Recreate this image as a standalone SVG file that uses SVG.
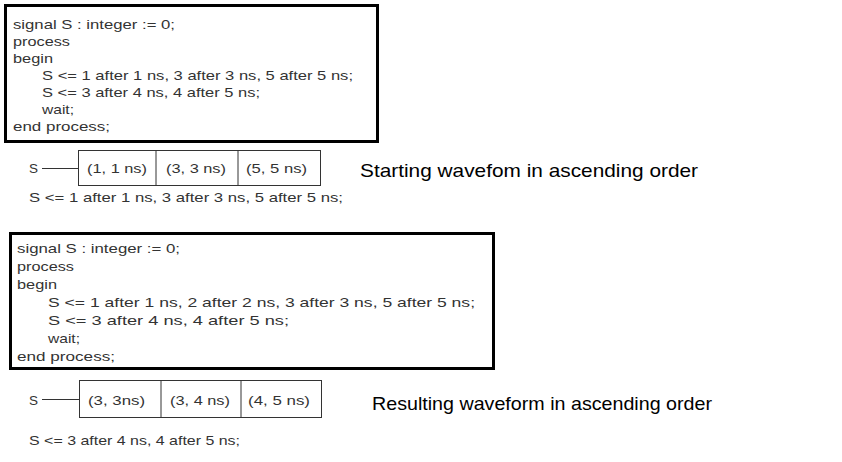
<svg xmlns="http://www.w3.org/2000/svg" width="842" height="462" viewBox="0 0 842 462">
<style>
  .code { font-family: "Liberation Sans", Arial, sans-serif; font-size: 13.5px; fill: #333333; }
  .label { font-family: "Liberation Sans", Arial, sans-serif; font-size: 19px; fill: #000000; }
  .frame { fill: #ffffff; stroke: #000000; stroke-width: 3; }
  .wave { fill: #ffffff; stroke: #333333; stroke-width: 1; }
  .div { stroke: #333333; stroke-width: 1; }
  .wire { stroke: #333333; stroke-width: 1; fill: none; }
</style>
<rect width="842" height="462" fill="#ffffff"/>

<g id="code1">
  <rect class="frame" x="5.5" y="5.5" width="372" height="136"/>
  <text class="code" x="13" y="29" textLength="162" lengthAdjust="spacingAndGlyphs">signal S : integer := 0;</text>
  <text class="code" x="13" y="46" textLength="57" lengthAdjust="spacingAndGlyphs">process</text>
  <text class="code" x="13" y="63" textLength="40" lengthAdjust="spacingAndGlyphs">begin</text>
  <text class="code" x="42" y="80" textLength="311" lengthAdjust="spacingAndGlyphs">S &lt;= 1 after 1 ns, 3 after 3 ns, 5 after 5 ns;</text>
  <text class="code" x="42" y="97" textLength="218" lengthAdjust="spacingAndGlyphs">S &lt;= 3 after 4 ns, 4 after 5 ns;</text>
  <text class="code" x="42" y="114" textLength="32" lengthAdjust="spacingAndGlyphs">wait;</text>
  <text class="code" x="13" y="131" textLength="97" lengthAdjust="spacingAndGlyphs">end process;</text>
</g>

<g id="wave1">
  <text class="code" x="29" y="173">S</text>
  <rect class="wave" x="78.5" y="150.5" width="242" height="35"/>
  <line class="div" x1="156" y1="150.5" x2="156" y2="185.5"/>
  <line class="div" x1="238" y1="150.5" x2="238" y2="185.5" stroke="#888888"/>
  <text class="code" x="87" y="173" textLength="60" lengthAdjust="spacingAndGlyphs">(1, 1 ns)</text>
  <text class="code" x="166" y="173" textLength="60" lengthAdjust="spacingAndGlyphs">(3, 3 ns)</text>
  <text class="code" x="246" y="173" textLength="61" lengthAdjust="spacingAndGlyphs">(5, 5 ns)</text>
  <text class="code" x="29" y="202" textLength="314" lengthAdjust="spacingAndGlyphs">S &lt;= 1 after 1 ns, 3 after 3 ns, 5 after 5 ns;</text>
</g>

<g id="label1">
  <text class="label" x="360" y="177" textLength="338" lengthAdjust="spacingAndGlyphs">Starting wavefom in ascending order</text>
</g>

<g id="code2">
  <rect class="frame" x="10.5" y="233.5" width="483" height="135"/>
  <text class="code" x="17" y="253" textLength="163" lengthAdjust="spacingAndGlyphs">signal S : integer := 0;</text>
  <text class="code" x="17" y="271" textLength="57" lengthAdjust="spacingAndGlyphs">process</text>
  <text class="code" x="17" y="289" textLength="40" lengthAdjust="spacingAndGlyphs">begin</text>
  <text class="code" x="48" y="307" textLength="427" lengthAdjust="spacingAndGlyphs">S &lt;= 1 after 1 ns, 2 after 2 ns, 3 after 3 ns, 5 after 5 ns;</text>
  <text class="code" x="48" y="325" textLength="241" lengthAdjust="spacingAndGlyphs">S &lt;= 3 after 4 ns, 4 after 5 ns;</text>
  <text class="code" x="48" y="343" textLength="32" lengthAdjust="spacingAndGlyphs">wait;</text>
  <text class="code" x="17" y="361" textLength="98" lengthAdjust="spacingAndGlyphs">end process;</text>
</g>

<g id="wave2">
  <text class="code" x="29" y="405">S</text>
  <rect class="wave" x="79.5" y="380.5" width="242" height="37"/>
  <line class="div" x1="161" y1="380.5" x2="161" y2="417.5" stroke-width="2"/>
  <line class="div" x1="241" y1="380.5" x2="241" y2="417.5"/>
  <text class="code" x="88" y="405" textLength="57" lengthAdjust="spacingAndGlyphs">(3, 3ns)</text>
  <text class="code" x="170" y="405" textLength="60" lengthAdjust="spacingAndGlyphs">(3, 4 ns)</text>
  <text class="code" x="248" y="405" textLength="62" lengthAdjust="spacingAndGlyphs">(4, 5 ns)</text>
  <text class="code" x="29" y="445" textLength="211" lengthAdjust="spacingAndGlyphs">S &lt;= 3 after 4 ns, 4 after 5 ns;</text>
</g>

<g id="label2">
  <text class="label" x="372" y="410" textLength="340" lengthAdjust="spacingAndGlyphs">Resulting waveform in ascending order</text>
</g>

<g id="connectors">
  <line class="wire" x1="42" y1="168.5" x2="78.5" y2="168.5"/>
  <line class="wire" x1="42" y1="399.5" x2="79.5" y2="399.5"/>
</g>
</svg>
